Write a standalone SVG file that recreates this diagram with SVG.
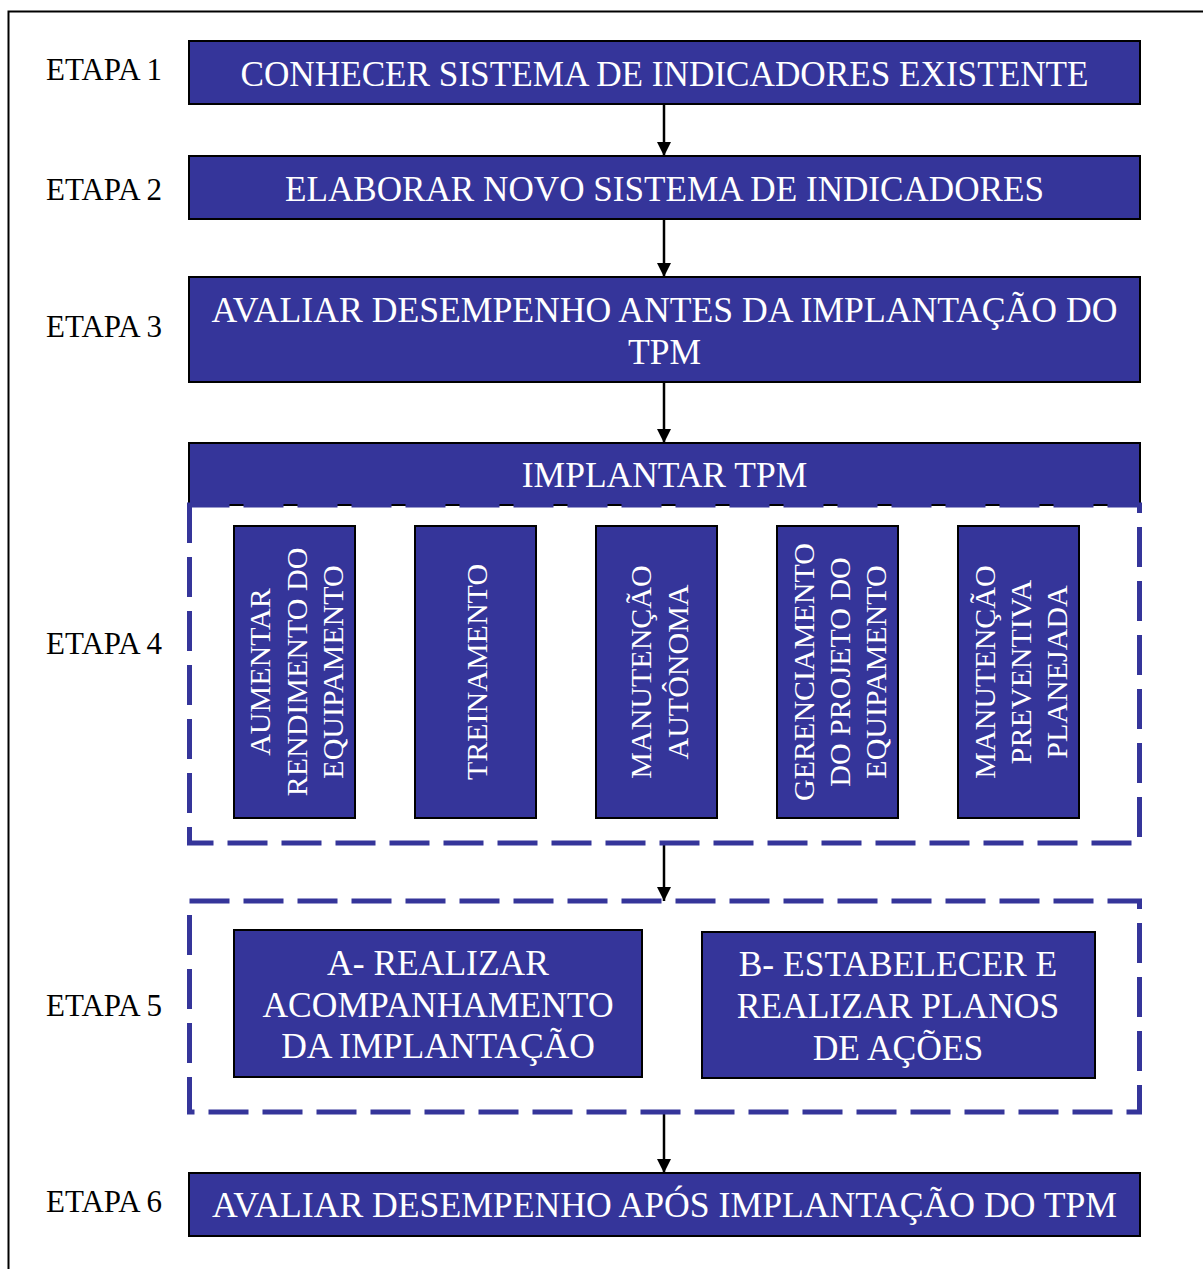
<svg xmlns="http://www.w3.org/2000/svg" width="1203" height="1269" viewBox="0 0 1203 1269">
  <style>
    .box { fill: #35359a; stroke: #000; stroke-width: 2; }
    .dash { fill: none; stroke: #35359a; stroke-width: 5; stroke-dasharray: 40 14; }
    .t { font-family: "Liberation Serif", "Times New Roman", serif; font-size: 35.5px; fill: #fff; text-anchor: middle; }
    .tv { font-family: "Liberation Serif", "Times New Roman", serif; font-size: 30px; fill: #fff; text-anchor: middle; }
    .lbl { font-family: "Liberation Serif", "Times New Roman", serif; font-size: 31px; fill: #000; }
    .conn { stroke: #000; stroke-width: 2.5; fill: none; }
  </style>
  <defs>
    <marker id="arrow" viewBox="0 0 14 14" refX="14" refY="7" markerWidth="14" markerHeight="14" markerUnits="userSpaceOnUse" orient="auto">
      <path d="M0,0 L14,7 L0,14 Z" fill="#000"/>
    </marker>
  </defs>

  <rect width="1203" height="1269" fill="#fff"/>
  <!-- outer frame -->
  <rect x="8.5" y="11.5" width="1220" height="1280" fill="none" stroke="#000" stroke-width="2"/>

  <!-- stage labels -->
  <g id="labels">
    <text class="lbl" x="46" y="80">ETAPA 1</text>
    <text class="lbl" x="46" y="200">ETAPA 2</text>
    <text class="lbl" x="46" y="337">ETAPA 3</text>
    <text class="lbl" x="46" y="654">ETAPA 4</text>
    <text class="lbl" x="46" y="1016">ETAPA 5</text>
    <text class="lbl" x="46" y="1212">ETAPA 6</text>
  </g>

  <g id="connectors">
    <line class="conn" x1="664" y1="104" x2="664" y2="156" marker-end="url(#arrow)"/>
    <line class="conn" x1="664" y1="219" x2="664" y2="277" marker-end="url(#arrow)"/>
    <line class="conn" x1="664" y1="382" x2="664" y2="443" marker-end="url(#arrow)"/>
    <line class="conn" x1="664" y1="843" x2="664" y2="901" marker-end="url(#arrow)"/>
    <line class="conn" x1="664" y1="1112" x2="664" y2="1173" marker-end="url(#arrow)"/>
  </g>

  <g id="etapa1">
    <rect class="box" x="189" y="41" width="951" height="63"/>
    <text class="t" x="664.5" y="86" textLength="848" lengthAdjust="spacingAndGlyphs">CONHECER SISTEMA DE INDICADORES EXISTENTE</text>
  </g>

  <g id="etapa2">
    <rect class="box" x="189" y="156" width="951" height="63"/>
    <text class="t" x="664.5" y="201" textLength="759" lengthAdjust="spacingAndGlyphs">ELABORAR NOVO SISTEMA DE INDICADORES</text>
  </g>

  <g id="etapa3">
    <rect class="box" x="189" y="277" width="951" height="105"/>
    <text class="t" x="664.5" y="322" textLength="906" lengthAdjust="spacingAndGlyphs">AVALIAR DESEMPENHO ANTES DA IMPLANTAÇÃO DO</text>
    <text class="t" x="664.5" y="364">TPM</text>
  </g>

  <g id="etapa4">
    <rect class="box" x="189" y="443" width="951" height="62"/>
    <text class="t" x="664.5" y="487">IMPLANTAR TPM</text>
    <rect class="dash" x="189.5" y="505" width="950" height="338"/>

    <g id="pilar-rendimento">
      <rect class="box" x="234" y="526" width="121" height="292"/>
      <text class="tv" transform="translate(270,672) rotate(-90)">AUMENTAR</text>
      <text class="tv" transform="translate(307,672) rotate(-90)">RENDIMENTO DO</text>
      <text class="tv" transform="translate(343,672) rotate(-90)">EQUIPAMENTO</text>
    </g>
    <g id="pilar-treinamento">
      <rect class="box" x="415" y="526" width="121" height="292"/>
      <text class="tv" transform="translate(487,672) rotate(-90)">TREINAMENTO</text>
    </g>
    <g id="pilar-autonoma">
      <rect class="box" x="596" y="526" width="121" height="292"/>
      <text class="tv" transform="translate(651,672) rotate(-90)">MANUTENÇÃO</text>
      <text class="tv" transform="translate(688,672) rotate(-90)">AUTÔNOMA</text>
    </g>
    <g id="pilar-projeto">
      <rect class="box" x="777" y="526" width="121" height="292"/>
      <text class="tv" transform="translate(814,672) rotate(-90)">GERENCIAMENTO</text>
      <text class="tv" transform="translate(850,672) rotate(-90)">DO PROJETO DO</text>
      <text class="tv" transform="translate(886,672) rotate(-90)">EQUIPAMENTO</text>
    </g>
    <g id="pilar-preventiva">
      <rect class="box" x="958" y="526" width="121" height="292"/>
      <text class="tv" transform="translate(995,672) rotate(-90)">MANUTENÇÃO</text>
      <text class="tv" transform="translate(1031,672) rotate(-90)">PREVENTIVA</text>
      <text class="tv" transform="translate(1067,672) rotate(-90)">PLANEJADA</text>
    </g>
  </g>

  <g id="etapa5">
    <rect class="dash" x="189.5" y="901" width="950" height="211"/>
    <g id="etapa5-a">
      <rect class="box" x="234" y="930" width="408" height="147"/>
      <text class="t" x="438" y="975">A- REALIZAR</text>
      <text class="t" x="438" y="1017">ACOMPANHAMENTO</text>
      <text class="t" x="438" y="1058">DA IMPLANTAÇÃO</text>
    </g>
    <g id="etapa5-b">
      <rect class="box" x="702" y="932" width="393" height="146"/>
      <text class="t" x="898" y="976">B- ESTABELECER E</text>
      <text class="t" x="898" y="1018">REALIZAR PLANOS</text>
      <text class="t" x="898" y="1060">DE AÇÕES</text>
    </g>
  </g>

  <g id="etapa6">
    <rect class="box" x="189" y="1173" width="951" height="63"/>
    <text class="t" x="664.5" y="1217" textLength="905" lengthAdjust="spacingAndGlyphs">AVALIAR DESEMPENHO APÓS IMPLANTAÇÃO DO TPM</text>
  </g>
</svg>
